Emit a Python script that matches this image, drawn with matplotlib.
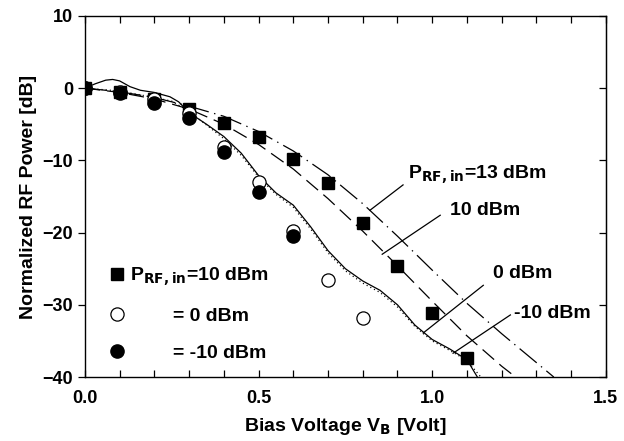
import matplotlib
matplotlib.use("Agg")
import matplotlib.pyplot as plt
from matplotlib.lines import Line2D

plt.rcParams['font.family'] = ['Liberation Sans', 'DejaVu Sans']
plt.rcParams['font.weight'] = 'bold'
plt.rcParams['lines.scale_dashes'] = False

# measured points
v_pts = [0.0, 0.1, 0.2, 0.3, 0.4, 0.5, 0.6, 0.7, 0.8, 0.9, 1.0, 1.1]
p_10dbm = [0.0, -0.5, -1.5, -2.9, -4.8, -6.8, -9.8, -13.2, -18.7, -24.6, -31.2, -37.4]
v_open = [0.0, 0.1, 0.2, 0.3, 0.4, 0.5, 0.6, 0.7, 0.8]
p_0dbm = [0.0, -0.5, -1.5, -3.5, -8.1, -13.0, -19.8, -26.6, -31.8]
v_fill = [0.0, 0.1, 0.2, 0.3, 0.4, 0.5, 0.6]
p_m10dbm = [0.0, -0.7, -2.0, -4.2, -8.9, -14.4, -20.5]

# simulated curves
v_13 = [0.0, 0.1, 0.2, 0.3, 0.4, 0.5, 0.6, 0.7, 0.8, 0.9, 1.0, 1.1, 1.2, 1.3, 1.35]
sim_13 = [0.0, -0.5, -1.3, -2.5, -3.9, -6.0, -8.7, -12.0, -16.0, -20.5, -25.2, -29.8, -34.0, -38.0, -40.0]
v_10 = [0.0, 0.1, 0.2, 0.3, 0.4, 0.5, 0.6, 0.7, 0.8, 0.9, 1.0, 1.1, 1.2, 1.24]
sim_10 = [0.0, -0.6, -1.5, -2.9, -5.0, -7.8, -11.2, -15.3, -19.8, -24.6, -29.5, -34.3, -38.5, -40.0]
v_0 = [0.0, 0.03, 0.06, 0.08, 0.1, 0.13, 0.16, 0.2, 0.245, 0.27, 0.3, 0.35, 0.4, 0.45,
       0.5, 0.55, 0.6, 0.65, 0.7, 0.75, 0.8, 0.85, 0.9, 0.95, 1.0, 1.05, 1.1, 1.13]
sim_0 = [0.0, 0.6, 1.1, 1.2, 1.0, 0.2, -0.3, -0.6, -1.2, -1.9, -3.4, -5.0, -6.7, -9.0,
         -12.1, -14.5, -16.2, -19.2, -22.5, -25.0, -26.7, -28.0, -30.0, -32.8, -34.8, -36.1, -37.6, -40.0]
v_m10 = [0.0, 0.1, 0.2, 0.25, 0.3, 0.35, 0.4, 0.45, 0.5, 0.55, 0.6, 0.65, 0.7, 0.75,
         0.8, 0.85, 0.9, 0.95, 1.0, 1.05, 1.1, 1.14]
sim_m10 = [0.0, -0.4, -1.3, -1.8, -3.2, -5.1, -7.0, -9.3, -12.3, -14.7, -16.5, -19.5, -22.8, -25.3,
           -27.0, -28.3, -30.3, -33.0, -35.0, -36.3, -37.7, -40.0]

fig = plt.figure(figsize=(6.24, 4.41), dpi=100)
ax = fig.add_axes([0.136, 0.145, 0.835, 0.819])

lw = 0.9
ax.plot(v_13, sim_13, color='black', lw=lw, dashes=(16, 4, 1, 4))
ax.plot(v_10, sim_10, color='black', lw=lw, dashes=(11, 5))
ax.plot(v_0, sim_0, color='black', lw=lw)
ax.plot(v_m10, sim_m10, color='black', lw=lw, dashes=(0.8, 2.2))

ax.plot(v_pts, p_10dbm, 's', color='black', ms=9, ls='none')
ax.plot(v_open, p_0dbm, 'o', mfc='white', mec='black', mew=0.9, ms=9.5, ls='none')
ax.plot(v_fill, p_m10dbm, 'o', color='black', ms=9.5, ls='none')

# curve labels with leader lines
fs = 14
ax.plot([0.916, 0.821], [-13.4, -16.9], color='black', lw=lw)
ax.text(0.93, -12.0, r'P$_{\mathbf{RF,in}}$=13 dBm', fontsize=fs, fontweight='bold', va='center')
ax.plot([1.023, 0.856], [-17.6, -23.0], color='black', lw=lw)
ax.text(1.05, -17.0, '10 dBm', fontsize=fs, fontweight='bold', va='center')
ax.plot([1.147, 0.974], [-27.3, -33.9], color='black', lw=lw)
ax.text(1.175, -25.6, '0 dBm', fontsize=fs, fontweight='bold', va='center')
ax.plot([1.225, 1.06], [-31.4, -36.7], color='black', lw=lw)
ax.text(1.235, -31.2, '-10 dBm', fontsize=fs, fontweight='bold', va='center')

handles = [
    Line2D([], [], marker='s', color='black', ls='none', ms=9),
    Line2D([], [], marker='o', mfc='white', mec='black', mew=0.9, ls='none', ms=9.5),
    Line2D([], [], marker='o', color='black', ls='none', ms=9.5),
]
labels = [r'P$_{\mathbf{RF,in}}$=10 dBm', '        = 0 dBm', '        = -10 dBm']
ax.legend(handles, labels, loc='lower left', frameon=False, fontsize=fs,
          labelspacing=1.0, handlelength=1.0, handletextpad=0.2, borderaxespad=0.2,
          bbox_to_anchor=(0.02, 0.01))

ax.set_xlim(0, 1.5)
ax.set_ylim(-40, 10)
ax.set_xticks([0.0, 0.5, 1.0, 1.5])
ax.set_xticklabels(['0.0', '0.5', '1.0', '1.5'])
ax.set_xticks([0.1 * i for i in range(16)], minor=True)
ax.set_yticks([10, 0, -10, -20, -30, -40])
ax.tick_params(axis='x', which='both', direction='in', top=True, length=5, width=0.9,
               labelsize=13, pad=9)
ax.tick_params(axis='y', which='both', direction='out', length=5, width=0.9, labelsize=13)
sec = ax.secondary_yaxis('right')
sec.set_yticks([10, 0, -10, -20, -30, -40])
sec.tick_params(direction='in', length=5, width=0.9, labelright=False)
for lab in ax.get_xticklabels() + ax.get_yticklabels():
    lab.set_fontweight('bold')
for s in ax.spines.values():
    s.set_linewidth(1.0)

ax.set_xlabel(r'Bias Voltage V$_{\mathbf{B}}$ [Volt]', fontsize=14, fontweight='bold', labelpad=7)
ax.set_ylabel('Normalized RF Power [dB]', fontsize=14, fontweight='bold', labelpad=4)

fig.savefig('out.png', dpi=100)
